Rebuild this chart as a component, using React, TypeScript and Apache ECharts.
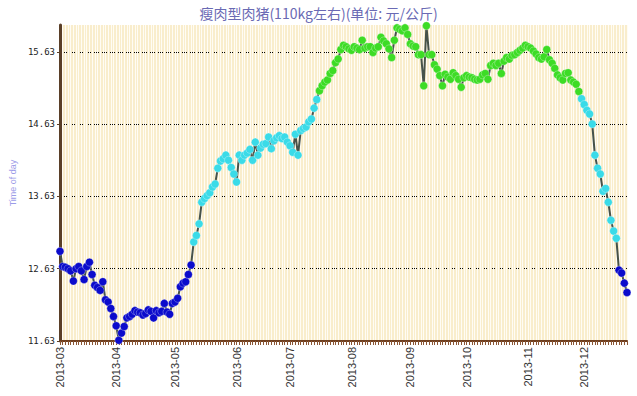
import React, { useEffect, useRef } from "react";
import * as echarts from "echarts";

const TITLE = "瘦肉型肉猪(110kg左右)(单位: 元/公斤)";
const Y_NAME = "Time of day";
const Y_MIN = 11.63;
const Y_MAX = 16.0;
const Y_STEP = 1;

// Weekday prices, month by month (2013)
const mar = [12.87, 12.66, 12.65, 12.63, 12.6, 12.46, 12.63, 12.66, 12.6, 12.48, 12.66, 12.72, 12.55, 12.4, 12.37, 12.33, 12.45, 12.2, 12.17, 12.08, 11.97];
const apr = [11.84, 11.64, 11.74, 11.83, 11.95, 11.97, 12.0, 12.05, 12.03, 12.02, 11.99, 12.01, 12.06, 12.04, 11.95, 12.05, 12.02, 12.04, 12.15, 12.03, 12.0, 12.15];
const may = [12.17, 12.22, 12.38, 12.43, 12.45, 12.55, 12.68, 13.0, 13.09, 13.25, 13.55, 13.6, 13.64, 13.68, 13.76, 13.8, 14.02, 14.12, 14.15, 14.2, 14.13, 14.03, 13.94];
const jun = [13.83, 14.2, 14.13, 14.2, 14.23, 14.28, 14.13, 14.38, 14.2, 14.3, 14.35, 14.36, 14.45, 14.29, 14.4, 14.44, 14.47, 14.43, 14.45, 14.38];
const jul = [14.33, 14.24, 14.49, 14.2, 14.54, 14.57, 14.59, 14.66, 14.7, 14.85, 14.97, 15.09, 15.16, 15.21, 15.24, 15.33, 15.37, 15.48, 15.53, 15.66, 15.72, 15.7, 15.67];
const aug = [15.65, 15.7, 15.68, 15.66, 15.79, 15.68, 15.7, 15.7, 15.62, 15.68, 15.7, 15.83, 15.78, 15.74, 15.67, 15.55, 15.79, 15.96, 15.94, 15.92, 15.96, 15.87];
const sep = [15.74, 15.71, 15.7, 15.59, 15.59, 15.16, 15.99, 15.59, 15.59, 15.45, 15.39, 15.3, 15.16, 15.32, 15.28, 15.25, 15.34, 15.3, 15.25, 15.14, 15.27];
const oct = [15.3, 15.28, 15.27, 15.25, 15.24, 15.25, 15.31, 15.33, 15.25, 15.44, 15.47, 15.44, 15.47, 15.33, 15.5, 15.55, 15.53, 15.58, 15.59, 15.62, 15.65, 15.68, 15.72];
const nov = [15.7, 15.68, 15.64, 15.6, 15.55, 15.53, 15.56, 15.66, 15.52, 15.47, 15.4, 15.31, 15.27, 15.24, 15.33, 15.34, 15.24, 15.21, 15.18, 15.08, 14.98];
const dec = [14.9, 14.82, 14.77, 14.63, 14.2, 14.02, 13.94, 13.7, 13.74, 13.55, 13.3, 13.15, 13.05, 12.61, 12.57, 12.43, 12.3];

const monthValues = [mar, apr, may, jun, jul, aug, sep, oct, nov, dec];
const FIRST_MONTH = 3; // March 2013

// Colour bands for the points
const LOW_LIMIT = 12.9;
const HIGH_LIMIT = 15.03;
const BAND_COLORS = ["#0b0bcc", "#3adbe8", "#3ddc25"];

function pad(n: number) {
  return n < 10 ? "0" + n : "" + n;
}

function buildData() {
  const dates: string[] = [];
  const values: number[] = [];
  monthValues.forEach((vals, mi) => {
    const month = FIRST_MONTH + mi;
    let day = 1;
    let k = 0;
    while (k < vals.length && day <= 31) {
      const d = new Date(Date.UTC(2013, month - 1, day));
      if (d.getUTCMonth() !== month - 1) break;
      const wd = d.getUTCDay();
      if (wd !== 0 && wd !== 6) {
        dates.push(`2013-${pad(month)}-${pad(day)}`);
        values.push(vals[k]);
        k++;
      }
      day++;
    }
  });
  return { dates, values };
}

export default function App() {
  const ref = useRef<HTMLDivElement>(null);

  useEffect(() => {
    if (!ref.current) return;
    const chart = echarts.init(ref.current, null, { renderer: "svg" });
    const { dates, values } = buildData();
    const pairs = dates.map((d, i) => [d, values[i]]);
    const firstOfMonth = new Set<number>();
    dates.forEach((d, i) => {
      if (i === 0 || d.slice(0, 7) !== dates[i - 1].slice(0, 7)) firstOfMonth.add(i);
    });

    chart.setOption({
      animation: false,
      backgroundColor: "#ffffff",
      title: {
        text: TITLE,
        left: "center",
        top: 1,
        textStyle: {
          color: "#6a6ab4",
          fontSize: 14,
          fontWeight: "normal",
          fontFamily: "Noto Sans CJK SC",
        },
      },
      grid: {
        left: 57,
        right: 10,
        top: 25,
        bottom: 55,
        show: true,
        backgroundColor: "#f9edcc",
        borderWidth: 0,
      },
      visualMap: {
        show: false,
        type: "piecewise",
        seriesIndex: 1,
        dimension: 1,
        pieces: [
          { lt: LOW_LIMIT, color: BAND_COLORS[0] },
          { gte: LOW_LIMIT, lt: HIGH_LIMIT, color: BAND_COLORS[1] },
          { gte: HIGH_LIMIT, color: BAND_COLORS[2] },
        ],
      },
      xAxis: {
        type: "category",
        data: dates,
        boundaryGap: false,
        axisLine: { show: true, lineStyle: { color: "#6e3f1f", width: 2 } },
        axisTick: {
          show: true,
          interval: 0,
          length: 4,
          lineStyle: { color: "#8a5533", width: 1 },
        },
        splitLine: {
          show: true,
          interval: 0,
          lineStyle: { color: "#fffcf4", width: 1 },
        },
        axisLabel: {
          interval: (index: number) => firstOfMonth.has(index),
          formatter: (v: string) => v.slice(0, 7),
          rotate: 90,
          fontSize: 11,
          color: "#333333",
          fontFamily: "Liberation Sans",
          margin: 6,
        },
      },
      yAxis: {
        type: "value",
        min: Y_MIN,
        max: Y_MAX,
        interval: Y_STEP,
        name: Y_NAME,
        nameLocation: "middle",
        nameGap: 36,
        nameRotate: 90,
        nameTextStyle: {
          color: "#9c9ce8",
          fontSize: 9,
          fontFamily: "Liberation Sans",
        },
        axisLine: { show: true, lineStyle: { color: "#5a3f28", width: 3 } },
        axisTick: { show: true, length: 3, lineStyle: { color: "#5a3f28" } },
        axisLabel: {
          showMaxLabel: false,
          formatter: (v: number) => v.toFixed(2),
          fontSize: 9,
          color: "#222222",
          fontFamily: "DejaVu Sans Mono",
          margin: 5,
        },
        splitLine: {
          show: true,
          lineStyle: {
            type: "dotted",
            width: 1,
            color: ["#000", "#000", "#000", "#000", "#000", "rgba(0,0,0,0)"],
          },
        },
      },
      series: [
        {
          type: "line",
          data: pairs,
          symbol: "none",
          lineStyle: { color: "#46524a", width: 2 },
          z: 2,
        },
        {
          type: "scatter",
          data: pairs,
          symbol: "circle",
          symbolSize: 8,
          itemStyle: { borderColor: "rgba(255,255,255,0.6)", borderWidth: 0.5, opacity: 1 },
          z: 3,
        },
      ],
    });

    return () => chart.dispose();
  }, []);

  return (
    <div
      ref={ref}
      style={{ position: "absolute", left: 0, top: 0, width: 637, height: 396 }}
    />
  );
}
